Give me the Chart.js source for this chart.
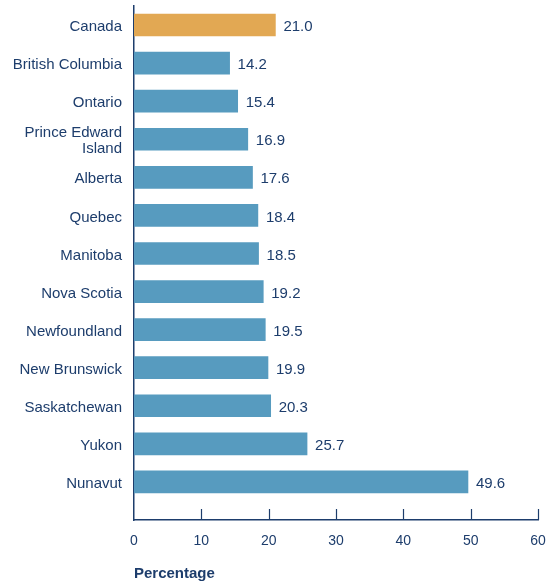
<!DOCTYPE html>
<html lang="en">
<head>
    <meta charset="UTF-8">
    <title>Percentage by province</title>
    <style>
        body { margin: 0; background: #fff; }
        .wrap { width: 550px; height: 581px; position: relative; }
    </style>
</head>
<body>
    <div class="wrap"><canvas id="chart"></canvas></div>

    <script src="https://cdn.jsdelivr.net/npm/chart.js"></script>
    <script>
        // data
        const regions = ['Canada', 'British Columbia', 'Ontario', ['Prince Edward', 'Island'], 'Alberta', 'Quebec',
            'Manitoba', 'Nova Scotia', 'Newfoundland', 'New Brunswick', 'Saskatchewan', 'Yukon', 'Nunavut'];
        const percentages = [21.0, 14.2, 15.4, 16.9, 17.6, 18.4, 18.5, 19.2, 19.5, 19.9, 20.3, 25.7, 49.6];
        const xTicks = [0, 10, 20, 30, 40, 50, 60];

        const navy = '#1d3d6c';
        const fontFamily = '"Liberation Sans", Arial, sans-serif';
        const barColors = regions.map((r, i) => i === 0 ? '#e2a853' : '#579bbf');

        // value labels to the right of each bar
        const valueLabels = {
            id: 'valueLabels',
            afterDatasetsDraw(chart) {
                const ctx = chart.ctx;
                ctx.save();
                ctx.fillStyle = navy;
                ctx.font = '15px ' + fontFamily;
                ctx.textBaseline = 'middle';
                chart.getDatasetMeta(0).data.forEach((bar, i) => {
                    ctx.fillText(percentages[i].toFixed(1), bar.x + 8, bar.y + 2);
                });
                ctx.restore();
            }
        };

        // tick marks pointing up from the x axis
        const innerTicks = {
            id: 'innerTicks',
            afterDraw(chart) {
                const ctx = chart.ctx;
                const x = chart.scales.x;
                const bottom = chart.chartArea.bottom;
                ctx.save();
                ctx.strokeStyle = navy;
                ctx.lineWidth = 1.2;
                xTicks.forEach(v => {
                    if (v === 0) return;
                    const px = Math.round(x.getPixelForValue(v)) + 0.5;
                    ctx.beginPath();
                    ctx.moveTo(px, bottom);
                    ctx.lineTo(px, bottom - 11);
                    ctx.stroke();
                });
                ctx.restore();
            }
        };

        new Chart(document.getElementById('chart'), {
            type: 'bar',
            data: {
                labels: regions,
                datasets: [{
                    data: percentages,
                    backgroundColor: barColors,
                    barThickness: 22
                }]
            },
            plugins: [valueLabels, innerTicks],
            options: {
                indexAxis: 'y',
                responsive: true,
                maintainAspectRatio: false,
                animation: false,
                layout: { padding: { top: 6, right: 12, left: 0, bottom: 0 } },
                plugins: {
                    legend: { display: false },
                    tooltip: { enabled: false }
                },
                scales: {
                    x: {
                        min: 0,
                        max: 60,
                        afterBuildTicks: s => { s.ticks = xTicks.map(v => ({ value: v })); },
                        afterFit: s => {
                            s.height = 61;
                            s.paddingLeft = 0;
                            s.paddingRight = 0;
                        },
                        grid: { display: false, drawTicks: false },
                        border: { display: true, color: navy, width: 1.5 },
                        ticks: {
                            color: navy,
                            padding: 13,
                            maxRotation: 0,
                            font: { family: fontFamily, size: 14 }
                        },
                        title: {
                            display: true,
                            text: 'Percentage',
                            align: 'start',
                            color: navy,
                            padding: { top: 10, bottom: 0 },
                            font: { family: fontFamily, size: 15, weight: 'bold', lineHeight: 1.0 }
                        }
                    },
                    y: {
                        afterFit: s => {
                            s.width = 134;
                            s.paddingTop = 0;
                            s.paddingBottom = 0;
                        },
                        afterBuildTicks: s => { s._valueRange += 0.5; },
                        grid: { display: false, drawTicks: false },
                        border: { display: true, color: navy, width: 1.5 },
                        ticks: {
                            color: navy,
                            padding: 12,
                            labelOffset: 2,
                            font: { family: fontFamily, size: 15, lineHeight: 1.07 }
                        }
                    }
                }
            }
        });
    </script>
</body>
</html>
